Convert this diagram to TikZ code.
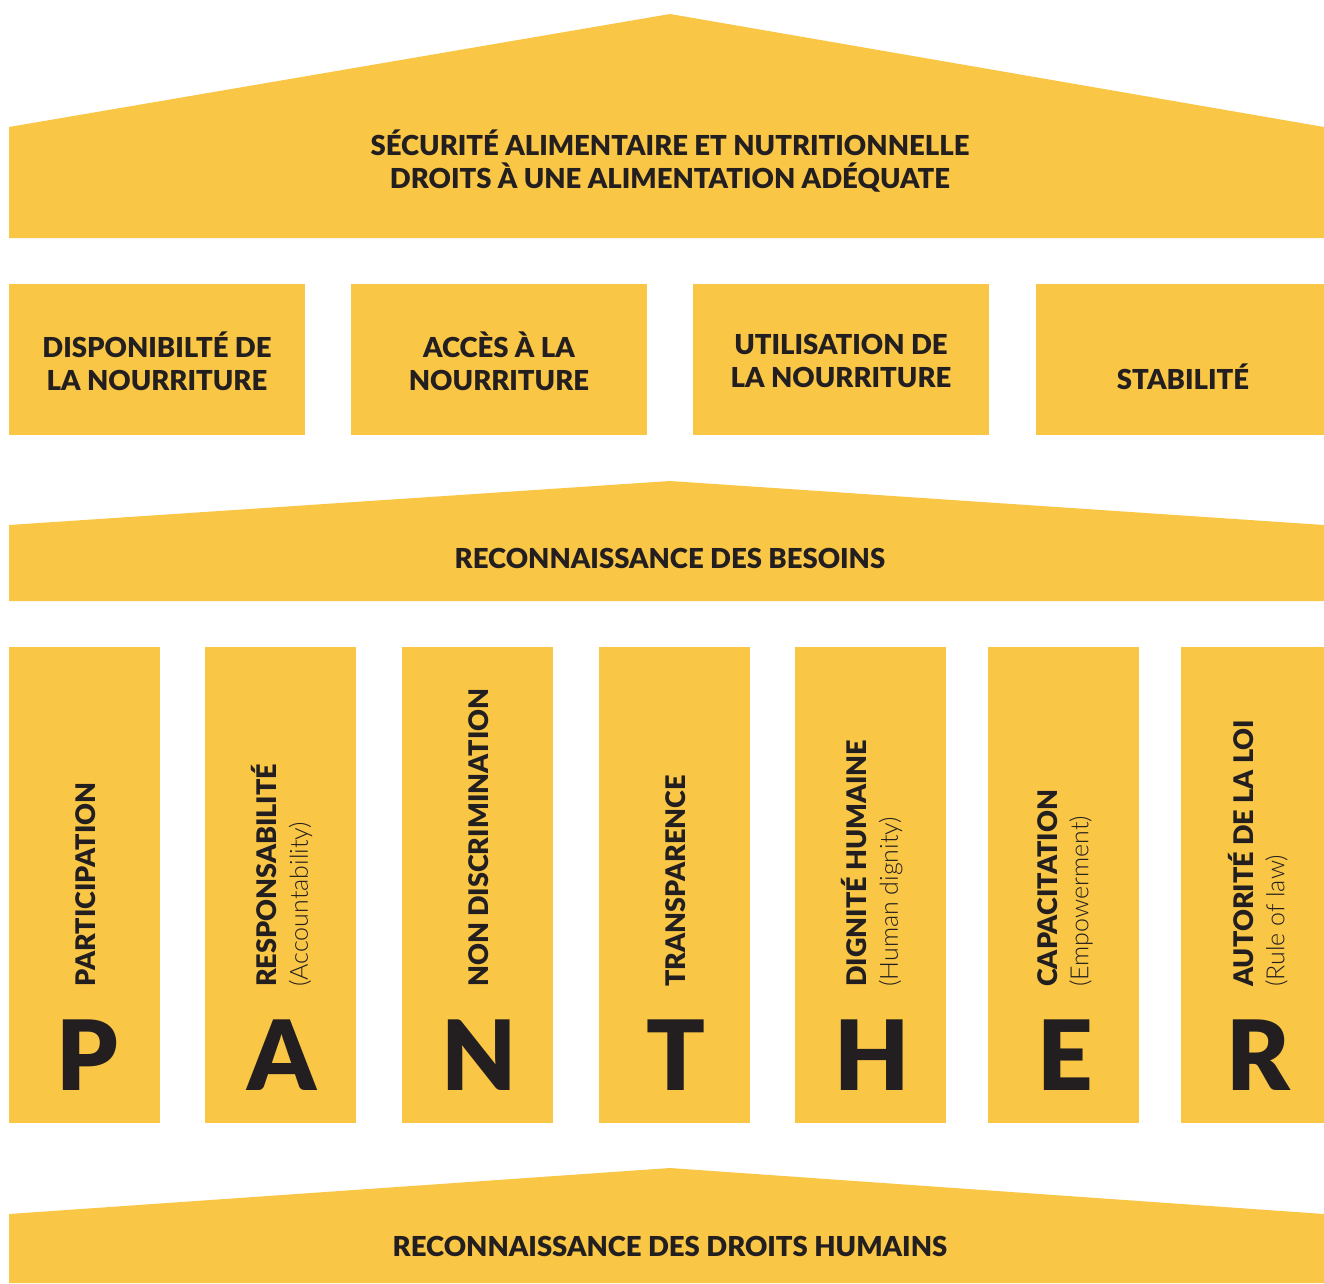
\documentclass[tikz,border=0pt]{standalone}
\usepackage{fontspec}
\setmainfont{Lato}[BoldFont={Lato Black}]
\newfontfamily\thinfont{Lato Light}
\usepackage{xcolor}
\usepackage{tikz}
\definecolor{panther}{HTML}{F9C646}
\definecolor{ink}{HTML}{231F20}
\tikzset{
  block/.style={fill=panther},
  title/.style={text=ink,font=\fontsize{27.5}{33}\selectfont\bfseries,align=center,inner sep=0.75pt},
  pillar/.style={text=ink,rotate=90,anchor=west,align=left,inner sep=0pt,font=\fontsize{27}{31}\selectfont},
  letter/.style={text=ink,anchor=base,inner sep=0pt,font=\fontsize{97}{97}\selectfont\bfseries}
}
\newcommand{\engl}[1]{{\thinfont\fontsize{25}{31}\selectfont #1}}
\begin{document}
\begin{tikzpicture}[x=1pt,y=-1pt]
\useasboundingbox (0,0) rectangle (1324,1283);
% roofs
\fill [block] (9,238) -- (9,127) -- (670,14) -- (1324,127) -- (1324,238) -- cycle;
\fill [block] (9,601) -- (9,525) -- (670,481) -- (1324,525) -- (1324,601) -- cycle;
\fill [block] (9,1283) -- (9,1214) -- (670,1168) -- (1324,1214) -- (1324,1283) -- cycle;
% food boxes
\fill [block] (9,284) rectangle (305,435);
\fill [block] (351,284) rectangle (647,435);
\fill [block] (693,284) rectangle (989,435);
\fill [block] (1036,284) rectangle (1324,435);
% pillars
\fill [block] (9,647) rectangle (160,1123);
\fill [block] (205,647) rectangle (356,1123);
\fill [block] (402,647) rectangle (553,1123);
\fill [block] (599,647) rectangle (750,1123);
\fill [block] (795,647) rectangle (946,1123);
\fill [block] (988,647) rectangle (1139,1123);
\fill [block] (1181,647) rectangle (1324,1123);
% texts
\node [title] (secu) at (670,161) {SÉCURITÉ ALIMENTAIRE ET NUTRITIONNELLE\\DROITS À UNE ALIMENTATION ADÉQUATE};
\node [title] (dispo) at (157,361) {DISPONIBILTÉ DE\\LA NOURRITURE};
\node [title] (acces) at (499,361) {ACCÈS À LA\\NOURRITURE};
\node [title] (util) at (841,361) {UTILISATION DE\\LA NOURRITURE};
\node [title] (stab) at (1183,377) {STABILITÉ};
\node [title] (besoins) at (670,558) {RECONNAISSANCE DES BESOINS};
\node [title] (droits) at (670,1246) {RECONNAISSANCE DES DROITS HUMAINS};
\node [pillar] (part) at (86,987) {\bfseries PARTICIPATION};
\node [pillar] (resp) at (282,987) {\bfseries RESPONSABILITÉ\\\engl{(Accountability)}};
\node [pillar] (nond) at (479,987) {\bfseries NON DISCRIMINATION};
\node [pillar] (trans) at (676,987) {\bfseries TRANSPARENCE};
\node [pillar] (dign) at (872,987) {\bfseries DIGNITÉ HUMAINE\\\engl{(Human dignity)}};
\node [pillar] (capa) at (1065,987) {\bfseries CAPACITATION\\\engl{(Empowerment)}};
\node [pillar] (auto) at (1258,987) {\bfseries AUTORITÉ DE LA LOI\\\engl{(Rule of law)}};
\node [letter] (p) at (87,1090) {P};
\node [letter] (a) at (282,1090) {A};
\node [letter] (n) at (479,1090) {N};
\node [letter] (t) at (676,1090) {T};
\node [letter] (h) at (872,1090) {H};
\node [letter] (e) at (1065,1090) {E};
\node [letter] (r) at (1258,1090) {R};
\end{tikzpicture}
\end{document}
